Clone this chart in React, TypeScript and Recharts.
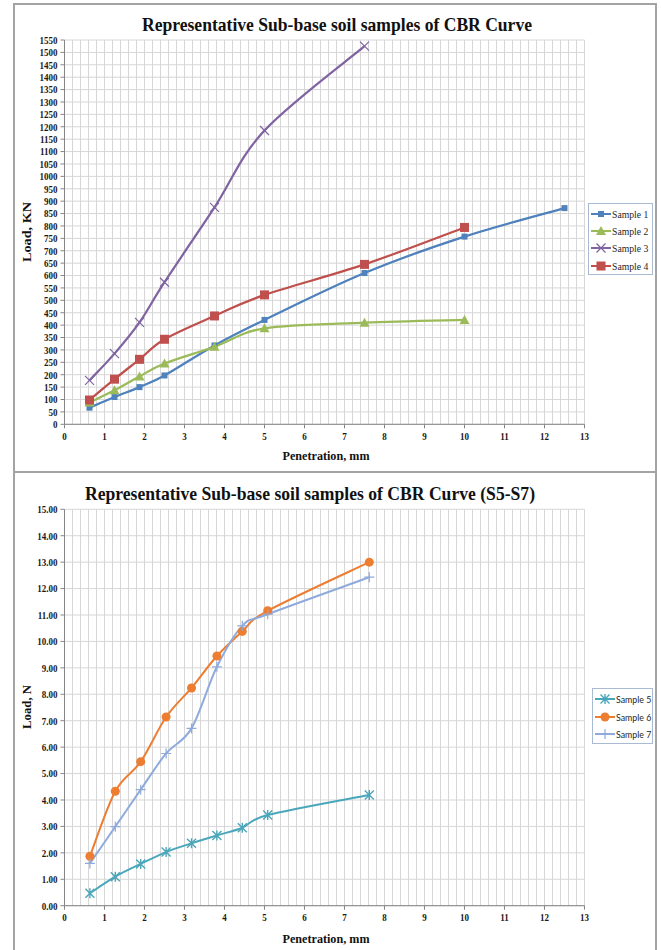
import React from "react";
import { LineChart, Line, XAxis, YAxis, CartesianGrid, Legend } from "recharts";

// Upper chart: Samples 1-4 (load in KN)
const penetrationA = [0.625, 1.25, 1.875, 2.5, 3.75, 5, 7.5, 10, 12.5];
const sample1 = [67, 110, 150, 197, 318, 421, 610, 757, 872];
const sample2 = [88, 137, 193, 245, 313, 387, 410, 421];
const sample3 = [177, 285, 411, 573, 875, 1185, 1525];
const sample4 = [98, 182, 262, 343, 437, 522, 645, 794];
const loadTicksA = [
  0, 50, 100, 150, 200, 250, 300, 350, 400, 450, 500, 550, 600, 650, 700, 750,
  800, 850, 900, 950, 1000, 1050, 1100, 1150, 1200, 1250, 1300, 1350, 1400,
  1450, 1500, 1550,
];

// Lower chart: Samples 5-7 (load in N)
const penetrationB = [0.635, 1.27, 1.905, 2.54, 3.175, 3.81, 4.445, 5.08, 7.62];
const sample5 = [0.47, 1.1, 1.58, 2.03, 2.36, 2.66, 2.95, 3.43, 4.19];
const sample6 = [1.87, 4.33, 5.45, 7.14, 8.24, 9.45, 10.38, 11.16, 13.0];
const sample7 = [1.6, 2.99, 4.39, 5.76, 6.71, 9.04, 10.59, 11.03, 12.43];
const loadTicksB = [0, 1, 2, 3, 4, 5, 6, 7, 8, 9, 10, 11, 12, 13, 14, 15];

const penetrationTicks = [0, 1, 2, 3, 4, 5, 6, 7, 8, 9, 10, 11, 12, 13];

const SERIF = "'Liberation Serif', 'Times New Roman', serif";
const SANS = "Lato, 'Liberation Sans', sans-serif";

type Shape = "square" | "bigSquare" | "triangle" | "cross" | "star" | "circle" | "plus";

interface Series {
  name: string;
  color: string;
  shape: Shape;
  xs: number[];
  ys: number[];
}

const seriesA: Series[] = [
  { name: "Sample 1", color: "#4F81BD", shape: "square", xs: penetrationA, ys: sample1 },
  { name: "Sample 2", color: "#9BBB59", shape: "triangle", xs: penetrationA, ys: sample2 },
  { name: "Sample 3", color: "#8064A2", shape: "cross", xs: penetrationA, ys: sample3 },
  { name: "Sample 4", color: "#C0504D", shape: "bigSquare", xs: penetrationA, ys: sample4 },
];

const seriesB: Series[] = [
  { name: "Sample 5", color: "#4AA7BB", shape: "star", xs: penetrationB, ys: sample5 },
  { name: "Sample 6", color: "#ED7D31", shape: "circle", xs: penetrationB, ys: sample6 },
  { name: "Sample 7", color: "#8FAADC", shape: "plus", xs: penetrationB, ys: sample7 },
];

const toPoints = (xs: number[], ys: number[]) => ys.map((y, i) => ({ x: xs[i], y }));

// minor vertical grid every 0.2 mm
const gridSteps = Array.from({ length: 66 }, (_, i) => i * 0.2);

const AXIS_W = 50;
const AXIS_H = 30;

// spreadsheet-style smoothed line: cubic segments with Catmull-Rom tangents
function smoothCurve(context: any) {
  let pts: number[][] = [];
  return {
    areaStart() {},
    areaEnd() {},
    lineStart() {
      pts = [];
    },
    point(x: number, y: number) {
      pts.push([+x, +y]);
    },
    lineEnd() {
      if (!pts.length) return;
      context.moveTo(pts[0][0], pts[0][1]);
      const k = 1 / 6;
      for (let i = 0; i < pts.length - 1; i++) {
        const p0 = pts[Math.max(i - 1, 0)];
        const p1 = pts[i];
        const p2 = pts[i + 1];
        const p3 = pts[Math.min(i + 2, pts.length - 1)];
        context.bezierCurveTo(
          p1[0] + (p2[0] - p0[0]) * k,
          p1[1] + (p2[1] - p0[1]) * k,
          p2[0] - (p3[0] - p1[0]) * k,
          p2[1] - (p3[1] - p1[1]) * k,
          p2[0],
          p2[1]
        );
      }
    },
  };
}

function Marker({ shape, color, cx, cy }: { shape: Shape; color: string; cx: number; cy: number }) {
  switch (shape) {
    case "square":
      return <rect x={cx - 3} y={cy - 3} width={6} height={6} fill={color} />;
    case "bigSquare":
      return <rect x={cx - 4.5} y={cy - 4.5} width={9} height={9} fill={color} />;
    case "triangle":
      return (
        <polygon
          points={`${cx},${cy - 5} ${cx + 5},${cy + 4} ${cx - 5},${cy + 4}`}
          fill={color}
        />
      );
    case "cross":
      return (
        <path
          d={`M${cx - 4.5},${cy - 4.5}L${cx + 4.5},${cy + 4.5}M${cx - 4.5},${cy + 4.5}L${cx + 4.5},${cy - 4.5}`}
          stroke={color}
          strokeWidth={1.2}
          fill="none"
        />
      );
    case "star":
      return (
        <path
          d={`M${cx - 4.5},${cy - 4.5}L${cx + 4.5},${cy + 4.5}M${cx - 4.5},${cy + 4.5}L${cx + 4.5},${cy - 4.5}M${cx},${cy - 5}L${cx},${cy + 5}`}
          stroke={color}
          strokeWidth={1.4}
          fill="none"
        />
      );
    case "circle":
      return <circle cx={cx} cy={cy} r={4.5} fill={color} />;
    case "plus":
      return (
        <path
          d={`M${cx - 5},${cy}L${cx + 5},${cy}M${cx},${cy - 5}L${cx},${cy + 5}`}
          stroke={color}
          strokeWidth={1.2}
          fill="none"
        />
      );
  }
  return null;
}

function LeftTick(props: any) {
  const { x, y, payload, digits } = props;
  const label = digits ? Number(payload.value).toFixed(digits) : String(payload.value);
  return (
    <g transform={`translate(${x},${y}) scale(0.82,1)`}>
      <text textAnchor="end" dy="0.35em" fontFamily={SERIF} fontWeight="bold" fontSize={11} fill="#1a1a1a">
        {label}
      </text>
    </g>
  );
}

function BottomTick(props: any) {
  const { x, y, payload } = props;
  return (
    <g transform={`translate(${x},${y}) scale(0.82,1)`}>
      <text textAnchor="middle" dy="0.75em" fontFamily={SERIF} fontWeight="bold" fontSize={11} fill="#1a1a1a">
        {payload.value}
      </text>
    </g>
  );
}

function LegendBox({ items, font, size, row }: { items: Series[]; font: string; size: number; row: number }) {
  return (
    <div style={{ border: "1px solid #a9bad3", background: "#fff", boxSizing: "border-box", padding: "1px 0 0 2px" }}>
      {items.map((s) => (
        <div key={s.name} style={{ display: "flex", alignItems: "center", height: row }}>
          <svg width={20} height={12} style={{ flex: "none" }}>
            <line x1={0} y1={6} x2={20} y2={6} stroke={s.color} strokeWidth={2} />
            <Marker shape={s.shape} color={s.color} cx={10} cy={6} />
          </svg>
          <span
            style={{
              fontFamily: font,
              fontSize: size,
              color: "#262626",
              whiteSpace: "nowrap",
              display: "inline-block",
              transform: "scaleX(0.88)",
              transformOrigin: "left center",
              marginLeft: 1,
            }}
          >
            {s.name}
          </span>
        </div>
      ))}
    </div>
  );
}

function verticalGrid(props: any) {
  const scale = props.xAxis && props.xAxis.scale;
  return gridSteps.map((v) =>
    typeof scale === "function" ? scale(v) : props.offset.left + (v / 13) * props.offset.width
  );
}

function CurveChart({
  series,
  width,
  height,
  plot,
  yMax,
  yTicks,
  digits,
  legendPos,
  legendFont,
  legendSize,
  legendRow,
  lineWidth,
}: {
  series: Series[];
  width: number;
  height: number;
  plot: { top: number; right: number; bottom: number; left: number };
  yMax: number;
  yTicks: number[];
  digits: number;
  legendPos: { left: number; top: number; width: number; height: number };
  legendFont: string;
  legendSize: number;
  legendRow: number;
  lineWidth: number;
}) {
  // plot holds the edges of the grid area; the axis boxes eat into the margins
  const margin = {
    top: plot.top,
    right: plot.right,
    bottom: plot.bottom - AXIS_H,
    left: plot.left - AXIS_W,
  };
  return (
    <LineChart width={width} height={height} margin={margin}>
      <CartesianGrid
        stroke="#d6d6d6"
        strokeWidth={1}
        verticalCoordinatesGenerator={verticalGrid}
      />
      <XAxis
        type="number"
        dataKey="x"
        domain={[0, 13]}
        ticks={penetrationTicks}
        interval={0}
        height={AXIS_H}
        tickSize={4}
        tickMargin={3}
        axisLine={{ stroke: "#868686" }}
        tickLine={{ stroke: "#868686" }}
        tick={(p: any) => <BottomTick {...p} />}
        allowDataOverflow
      />
      <YAxis
        type="number"
        dataKey="y"
        domain={[0, yMax]}
        ticks={yTicks}
        interval={0}
        width={AXIS_W}
        tickSize={4}
        tickMargin={3}
        axisLine={{ stroke: "#868686" }}
        tickLine={{ stroke: "#868686" }}
        tick={(p: any) => <LeftTick {...p} digits={digits} />}
        allowDataOverflow
      />
      <Legend
        layout="vertical"
        align="center"
        verticalAlign="middle"
        wrapperStyle={{ ...legendPos }}
        content={() => <LegendBox items={series} font={legendFont} size={legendSize} row={legendRow} />}
      />
      {series.map((s) => (
        <Line
          key={s.name}
          name={s.name}
          data={toPoints(s.xs, s.ys)}
          dataKey="y"
          type={smoothCurve as any}
          stroke={s.color}
          strokeWidth={lineWidth}
          dot={(p: any) => (
            <g key={`${s.name}-${p.index}`}>
              <Marker shape={s.shape} color={s.color} cx={p.cx} cy={p.cy} />
            </g>
          )}
          activeDot={false}
          isAnimationActive={false}
        />
      ))}
    </LineChart>
  );
}

function Caption({
  x,
  y,
  size,
  len,
  rotate,
  children,
}: {
  x: number;
  y: number;
  size: number;
  len: number;
  rotate?: boolean;
  children: string;
}) {
  return (
    <text
      x={rotate ? 0 : x}
      y={rotate ? 0 : y}
      transform={rotate ? `translate(${x},${y}) rotate(-90)` : undefined}
      textAnchor="middle"
      fontFamily={SERIF}
      fontWeight="bold"
      fontSize={size}
      fill="#111"
      textLength={len}
      lengthAdjust="spacingAndGlyphs"
    >
      {children}
    </text>
  );
}

export default function App() {
  return (
    <div
      style={{
        position: "absolute",
        left: 0,
        top: 0,
        width: 661,
        height: 950,
        overflow: "hidden",
        background: "#fff",
      }}
    >
      <div
        style={{
          position: "absolute",
          left: 13,
          top: 3,
          width: 644,
          height: 470,
          border: "2px solid #a3a3a3",
          boxSizing: "border-box",
        }}
      />
      <div
        style={{
          position: "absolute",
          left: 13,
          top: 471,
          width: 644,
          height: 500,
          border: "2px solid #a3a3a3",
          boxSizing: "border-box",
        }}
      />

      <div style={{ position: "absolute", left: 0, top: 0 }}>
        <CurveChart
          series={seriesA}
          width={661}
          height={472}
          plot={{ top: 40, right: 76.5, bottom: 47.7, left: 64.5 }}
          yMax={1550}
          yTicks={loadTicksA}
          digits={0}
          legendPos={{ left: 588, top: 203, width: 65, height: 71 }}
          legendFont={SERIF}
          legendSize={11}
          legendRow={17.3}
          lineWidth={2.25}
        />
      </div>

      <div style={{ position: "absolute", left: 0, top: 472 }}>
        <CurveChart
          series={seriesB}
          width={661}
          height={478}
          plot={{ top: 37.3, right: 76.5, bottom: 44.3, left: 64.5 }}
          yMax={15}
          yTicks={loadTicksB}
          digits={2}
          legendPos={{ left: 592, top: 216, width: 61, height: 55 }}
          legendFont={SANS}
          legendSize={10}
          legendRow={17.7}
          lineWidth={2}
        />
      </div>

      <svg
        width={661}
        height={950}
        style={{ position: "absolute", left: 0, top: 0, pointerEvents: "none" }}
      >
        <Caption x={337} y={31} size={19} len={390}>
          Representative Sub-base soil samples of CBR Curve
        </Caption>
        <Caption x={31} y={232} size={13} len={60} rotate>
          Load, KN
        </Caption>
        <Caption x={326} y={459.5} size={13} len={87}>
          Penetration, mm
        </Caption>

        <Caption x={310} y={499.5} size={19} len={450}>
          Representative Sub-base soil samples of CBR Curve (S5-S7)
        </Caption>
        <Caption x={31} y={707} size={13} len={44} rotate>
          Load, N
        </Caption>
        <Caption x={326} y={942.5} size={13} len={87}>
          Penetration, mm
        </Caption>
      </svg>
    </div>
  );
}
